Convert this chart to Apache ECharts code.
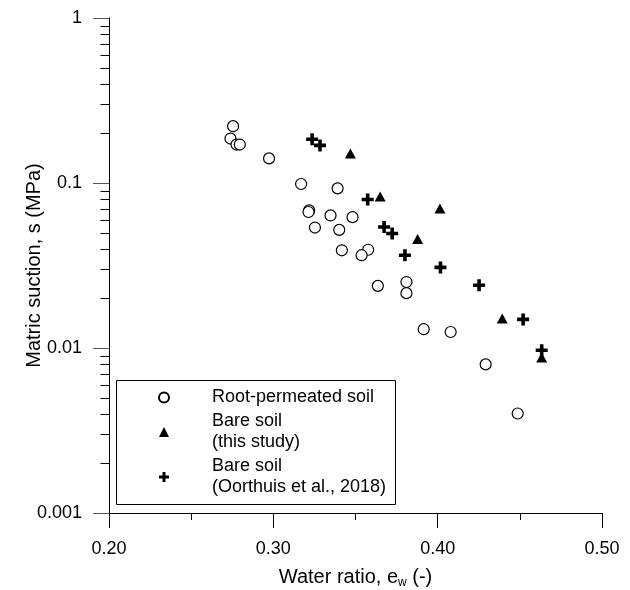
<!DOCTYPE HTML>
<html>
<head>
<meta charset="utf-8">
<title>matric suction vs water ratio</title>
<script src="https://cdn.jsdelivr.net/npm/echarts@6/dist/echarts.min.js"></script>
<style type="text/css">
  html, body {
    margin: 0;
    padding: 0;
    width: 100%;
    height: 100%;
    background: #fff;
  }
  #content {
    width: 630px;
    height: 590px;
  }
</style>
</head>
<body>
<div id="content"></div>
<script type="text/javascript">
  // data
  var rootX = [0.2755, 0.2739, 0.2776, 0.2796, 0.2974, 0.3169, 0.3391, 0.3218, 0.3214, 0.3348, 0.3482, 0.3253,
    0.3401, 0.3417, 0.3577, 0.3537, 0.3636, 0.3810, 0.3810, 0.3915, 0.4079, 0.4292, 0.4487];
  var rootY = [0.221, 0.186, 0.171, 0.171, 0.141, 0.0986, 0.0928, 0.0683, 0.0667, 0.0636, 0.0621, 0.0537,
    0.0520, 0.0391, 0.0394, 0.0365, 0.0238, 0.0251, 0.0215, 0.0130, 0.0125, 0.00796, 0.00401];
  var bareX = [0.3469, 0.3650, 0.4014, 0.3878, 0.4393, 0.4633];
  var bareY = [0.151, 0.0827, 0.0700, 0.0458, 0.0151, 0.00875];
  var oorX = [0.3236, 0.3284, 0.3574, 0.3674, 0.3723, 0.3801, 0.4017, 0.4252, 0.4520, 0.4633];
  var oorY = [0.184, 0.169, 0.0794, 0.0541, 0.0494, 0.0365, 0.0308, 0.0240, 0.0149, 0.00969];

  var seriesNames = ['Root-permeated soil', 'Bare soil\n(this study)', 'Bare soil\n(Oorthuis et al., 2018)'];
  var xTicks = [0.2, 0.3, 0.4, 0.5];
  var yTickLabels = ['0.001', '0.01', '0.1', '1'];
  var yMinorTicks = [0.002, 0.003, 0.004, 0.005, 0.006, 0.007, 0.008, 0.009,
    0.02, 0.03, 0.04, 0.05, 0.06, 0.07, 0.08, 0.09,
    0.2, 0.3, 0.4, 0.5, 0.6, 0.7, 0.8, 0.9];

  var FONT = 'Liberation Sans, Arial, sans-serif';
  var plusPath = 'path://M4.2,0H7.8V4.2H12V7.8H7.8V12H4.2V7.8H0V4.2H4.2Z';

  function zip(xs, ys) {
    var out = [];
    for (var i = 0; i < xs.length; i++) out.push([xs[i], ys[i]]);
    return out;
  }

  var xMin = xTicks[0], xMax = xTicks[xTicks.length - 1];

  var option = {
    animation: false,
    backgroundColor: '#fff',
    textStyle: { fontFamily: FONT },
    grid: { left: 109, right: 28, top: 18, bottom: 77, outerBoundsMode: 'none' },
    // frame round the legend
    graphic: [{
      type: 'rect',
      left: 114,
      top: 378,
      z: 10,
      silent: true,
      shape: { width: 279, height: 124 },
      style: { fill: 'none', stroke: '#000', lineWidth: 1 }
    }],
    xAxis: {
      type: 'value',
      min: xMin,
      max: xMax,
      interval: 0.1,
      name: 'Water ratio, e{sub|w} (-)',
      nameLocation: 'middle',
      nameGap: 52,
      nameMoveOverlap: false,
      nameTextStyle: {
        color: '#000', fontSize: 20, fontFamily: FONT, lineHeight: 24,
        rich: { sub: { fontSize: 12, fontFamily: FONT, color: '#000', verticalAlign: 'bottom', lineHeight: 12 } }
      },
      axisLine: { show: true, onZero: false, lineStyle: { color: '#000', width: 1 } },
      axisTick: { show: true, inside: false, length: 15, lineStyle: { color: '#000' } },
      minorTick: { show: true, splitNumber: 2, length: 7, lineStyle: { color: '#000' } },
      axisLabel: {
        color: '#000', fontSize: 18, fontFamily: FONT, margin: 27,
        formatter: function (v) { return v.toFixed(2); }
      },
      splitLine: { show: false }
    },
    yAxis: {
      type: 'log',
      logBase: 10,
      min: 0.001,
      max: 1,
      name: 'Matric suction, s (MPa)',
      nameLocation: 'middle',
      nameGap: 65,
      nameMoveOverlap: false,
      nameTextStyle: { color: '#000', fontSize: 20, fontFamily: FONT },
      axisLine: { show: true, onZero: false, lineStyle: { color: '#000', width: 1 } },
      axisTick: { show: true, inside: false, length: 16, lineStyle: { color: '#555' } },
      axisLabel: {
        color: '#000', fontSize: 18, fontFamily: FONT, margin: 27,
        formatter: function (v) {
          var k = Math.round(Math.log10(v)) + 3;
          return yTickLabels[k] !== undefined ? yTickLabels[k] : '';
        }
      },
      splitLine: { show: false }
    },
    legend: {
      orient: 'vertical',
      left: 117,
      top: 380,
      padding: [7, 20, 7, 41],
      itemGap: 3,
      itemWidth: 10,
      itemHeight: 10,
      borderWidth: 0,
      data: seriesNames,
      formatter: function (name) {
        return name.split('\n').map(function (line) { return '{g|}' + line; }).join('\n');
      },
      textStyle: {
        color: '#000', fontSize: 18, fontFamily: FONT, lineHeight: 21,
        rich: { g: { width: 38, height: 21 } }
      }
    },
    series: [
      {
        name: seriesNames[0],
        type: 'scatter',
        symbol: 'circle',
        symbolSize: 11,
        itemStyle: { color: '#fff', borderColor: '#000', borderWidth: 1.2, opacity: 1 },
        data: zip(rootX, rootY)
      },
      {
        name: seriesNames[1],
        type: 'scatter',
        symbol: 'triangle',
        symbolSize: [11, 10],
        itemStyle: { color: '#000', opacity: 1 },
        data: zip(bareX, bareY)
      },
      {
        name: seriesNames[2],
        type: 'scatter',
        symbol: plusPath,
        symbolSize: 12,
        itemStyle: { color: '#000', opacity: 1 },
        data: zip(oorX, oorY)
      },
      {
        // minor ticks of the log axis (2..9 in each decade)
        name: 'yminor',
        type: 'custom',
        silent: true,
        clip: false,
        encode: { x: 0, y: 1 },
        data: yMinorTicks.map(function (v) { return [xMin, v]; }),
        renderItem: function (params, api) {
          var p = api.coord([api.value(0), api.value(1)]);
          var x = Math.round(p[0]) + 0.5;
          var y = Math.round(p[1]) + 0.5;
          return {
            type: 'line',
            shape: { x1: x - 9, y1: y, x2: x, y2: y },
            style: { stroke: '#000', lineWidth: 1 }
          };
        }
      }
    ]
  };

  var myChart = echarts.init(document.getElementById('content'));
  myChart.setOption(option);
</script>
</body>
</html>
